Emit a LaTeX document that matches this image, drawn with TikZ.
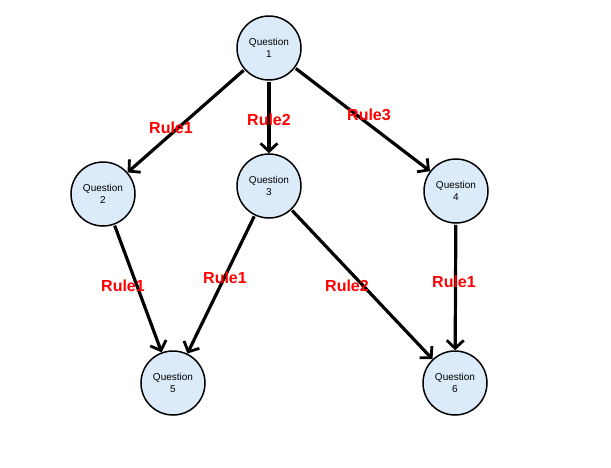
\documentclass[tikz,border=0pt]{standalone}
\usepackage{fontspec}
\setmainfont{Liberation Sans}
\usetikzlibrary{arrows.meta}
\definecolor{qfill}{HTML}{DCEBFA}
\begin{document}
\begin{tikzpicture}[x=1pt,y=-1pt,
  q/.style={circle,draw=black,line width=1.5pt,fill=qfill,minimum size=64pt,inner sep=0pt,align=center,font=\fontsize{10}{11.5}\selectfont},
  e/.style={line width=3.2pt,-{Straight Barb[length=8pt,width=17pt,line width=2.8pt]},shorten <=1pt,shorten >=0pt},
  r/.style={text=red,font=\bfseries\fontsize{16}{18}\selectfont}]
\useasboundingbox (0,0) rectangle (611,467);
\node[q] (q1) at (269,48) {Question\\1};
\node[q] (q2) at (103,194) {Question\\2};
\node[q] (q3) at (269,186) {Question\\3};
\node[q] (q4) at (456,191) {Question\\4};
\node[q] (q5) at (173,383) {Question\\5};
\node[q] (q6) at (455,383) {Question\\6};
\draw[e] (q1) -- (q2);
\draw[e] (q1) -- (q3);
\draw[e] (q1) -- (q4);
\draw[e] (q2) -- (q5);
\draw[e] (q3) -- (q5);
\draw[e] (q3) -- (q6);
\draw[e] (q4) -- (q6);
\node[r] (l1) at (171,128) {Rule1};
\node[r] (l2) at (269,120) {Rule2};
\node[r] (l3) at (369,115) {Rule3};
\node[r] (l4) at (123,286) {Rule1};
\node[r] (l5) at (225,278) {Rule1};
\node[r] (l6) at (347,286) {Rule2};
\node[r] (l7) at (454,282) {Rule1};
\end{tikzpicture}
\end{document}
